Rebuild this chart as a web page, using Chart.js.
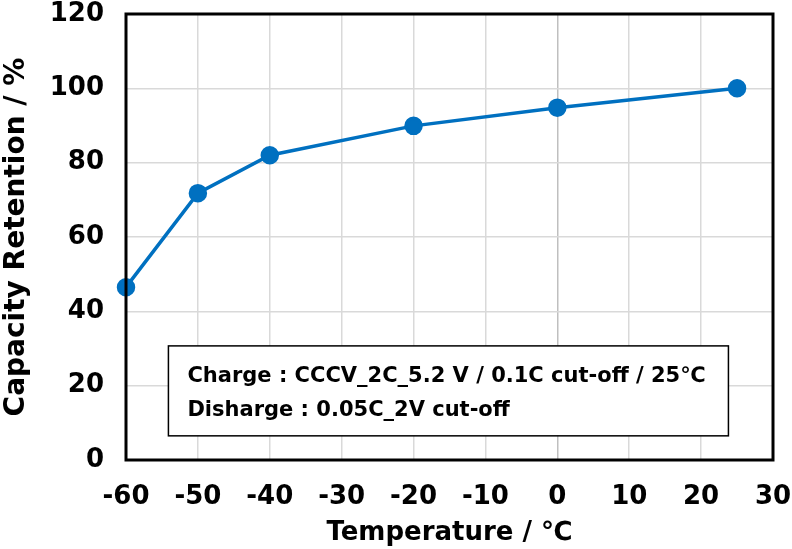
<!DOCTYPE html>
<html>
<head>
<meta charset="utf-8">
<script src="https://cdn.jsdelivr.net/npm/chart.js@4"></script>
<style>
  html, body { margin: 0; padding: 0; background: #fff; }
  #wrap { width: 792px; height: 549px; }
</style>
</head>
<body>
<div id="wrap"><canvas id="myChart" width="792" height="549"></canvas></div>
<script>
// Values
const temperatures = [-60, -50, -40, -20, 0, 25];
const retention = [46.5, 71.8, 82.0, 89.9, 94.8, 100.0];
const noteLines = [
  "Charge : CCCV_2C_5.2 V / 0.1C cut-off / 25\u2103",
  "Disharge : 0.05C_2V cut-off"
];

const FONT = "'DejaVu Sans', 'Noto Sans CJK JP', sans-serif";

// frame around plot area plus the note box
const framePlugin = {
  id: "frame",
  afterDraw(chart) {
    const { ctx, chartArea: a, scales } = chart;
    ctx.save();
    ctx.strokeStyle = "#000";
    ctx.lineWidth = 3;
    ctx.strokeRect(a.left, a.top, a.right - a.left, a.bottom - a.top);

    // note box
    const x0 = scales.x.getPixelForValue(-54.1);
    const x1 = scales.x.getPixelForValue(23.8);
    const y0 = scales.y.getPixelForValue(30.7);
    const y1 = scales.y.getPixelForValue(6.5);
    ctx.fillStyle = "#fff";
    ctx.fillRect(x0, y0, x1 - x0, y1 - y0);
    ctx.lineWidth = 1.5;
    ctx.strokeRect(x0, y0, x1 - x0, y1 - y0);
    ctx.fillStyle = "#000";
    ctx.font = "bold 21px " + FONT;
    ctx.textBaseline = "middle";
    ctx.fillText(noteLines[0], x0 + 19, y0 + 31);
    ctx.fillText(noteLines[1], x0 + 19, y0 + 65);
    ctx.restore();
  }
};

const config = {
  type: "scatter",
  data: {
    datasets: [{
      data: temperatures.map((t, i) => ({ x: t, y: retention[i] })),
      showLine: true,
      borderColor: "#0070c0",
      backgroundColor: "#0070c0",
      borderWidth: 3.5,
      pointRadius: 7.5,
      pointHoverRadius: 7.5,
      clip: false
    }]
  },
  options: {
    responsive: false,
    animation: false,
    layout: { padding: { top: 14, right: 19, left: 0, bottom: 0 } },
    plugins: { legend: { display: false }, tooltip: { enabled: false } },
    scales: {
      x: {
        type: "linear",
        min: -60, max: 30,
        afterFit(s) { s.height = 89; s.paddingLeft = 0; s.paddingRight = 0; },
        ticks: {
          stepSize: 10,
          color: "#000",
          padding: 22,
          font: { family: FONT, size: 26, weight: "bold" }
        },
        grid: {
          color: (c) => (c.tick && c.tick.value === 0 ? "#bfbfbf" : "#d9d9d9"),
          lineWidth: 1.5,
          drawTicks: false
        },
        border: { display: false },
        title: {
          display: true,
          text: "Temperature / \u2103",
          color: "#000",
          padding: { top: 0, bottom: 0 },
          font: { family: FONT, size: 26, weight: "bold" }
        }
      },
      y: {
        min: 0, max: 120,
        afterFit(s) { s.width = 126; s.paddingTop = 0; s.paddingBottom = 0; },
        ticks: {
          stepSize: 20,
          color: "#000",
          padding: 22,
          font: { family: FONT, size: 26, weight: "bold" }
        },
        grid: { color: "#d9d9d9", lineWidth: 1.5, drawTicks: false },
        border: { display: false },
        title: {
          display: true,
          text: "Capacity Retention / %",
          color: "#000",
          padding: { top: 0, bottom: 0 },
          font: { family: FONT, size: 28, weight: "bold" }
        }
      }
    }
  },
  plugins: [framePlugin]
};

let myChart = new Chart(document.getElementById("myChart"), config);
</script>
</body>
</html>
